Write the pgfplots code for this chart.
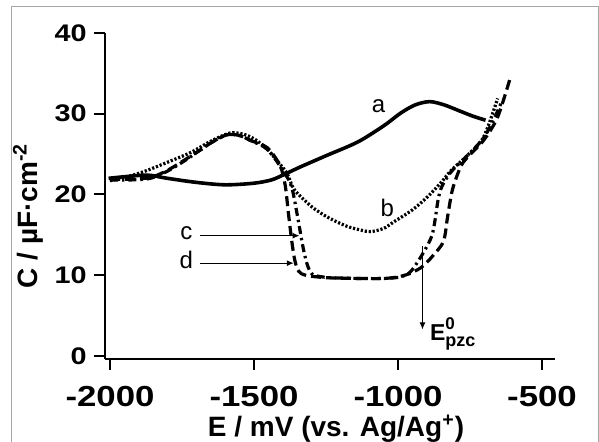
\documentclass[border=0pt]{standalone}
\usepackage{fontspec}
\setmainfont{Liberation Sans}
\newfontfamily\tickfont{Liberation Sans}[FakeStretch=1.2]
\usepackage{pgfplots}
\pgfplotsset{compat=1.18}
\usetikzlibrary{arrows.meta}
\begin{document}
\begin{tikzpicture}
\useasboundingbox (0,0) rectangle (299.5pt,221pt);
% frame
\draw[gray!70, line width=0.5pt] (5.75pt,0pt) -- (5.75pt,217.5pt) -- (299pt,217.5pt) -- (299pt,0pt);
\begin{axis}[
  at={(52.5pt,41.5pt)}, anchor=south west,
  scale only axis, width=225pt, height=163pt,
  xmin=-2017.4, xmax=-454.9, ymin=-0.37, ymax=40,
  axis x line=bottom, axis y line=left,
  axis line style={line width=1pt, -},
  xtick={-2000,-1500,-1000,-500}, xticklabels={-2000,-1500,-1000,-500},
  ytick={0,10,20,30,40}, yticklabels={0,10,20,30,40},
  tick align=outside, major tick length=5.5pt,
  tick style={line width=1pt, black},
  /pgf/number format/assume math mode=true,
  xticklabel style={font=\tickfont\bfseries\fontsize{14.5}{14.5}\selectfont, inner sep=0pt, yshift=-8pt},
  yticklabel style={font=\tickfont\bfseries\fontsize{12}{12}\selectfont, inner sep=0pt, xshift=-3.5pt},
  clip=false,
]
% a: solid
\addplot[black, line width=1.8pt, smooth] coordinates {
(-2005,22.0) (-1950,22.2) (-1870,22.4) (-1800,22.0) (-1700,21.5) (-1600,21.2)
(-1500,21.4) (-1440,21.8) (-1400,22.4) (-1340,23.4) (-1250,24.8) (-1140,26.5)
(-1050,28.5) (-990,30.1) (-940,31.1) (-890,31.5) (-840,31.1) (-790,30.4)
(-740,29.7) (-696,29.2)};
% b: dotted
\addplot[black, line width=1.6pt, smooth, dash pattern=on 1.1pt off 0.9pt] coordinates {
(-2000,21.7) (-1930,22.3) (-1870,23.0) (-1800,24.0) (-1720,25.2) (-1650,26.6)
(-1585,27.6) (-1540,27.5) (-1500,26.9) (-1460,25.8) (-1420,24.2) (-1385,22.6)
(-1360,20.6) (-1300,18.5) (-1245,17.2) (-1180,16.1) (-1130,15.6) (-1095,15.4)
(-1050,15.8) (-1015,16.6) (-950,18.1) (-898,19.7) (-850,21.5) (-815,23.0)
(-760,24.8) (-703,27.1) (-654,31.9)};
% c: dash-dot
\addplot[black, line width=1.6pt, smooth, dash pattern=on 4pt off 2pt on 1.2pt off 2pt] coordinates {
(-2000,21.8) (-1930,21.8) (-1860,22.0) (-1800,22.9) (-1740,24.2) (-1687,25.5)
(-1640,26.6) (-1593,27.4) (-1550,27.3) (-1513,26.7) (-1454,25.6) (-1400,23.0)
(-1370,21.0) (-1350,17.5) (-1330,13.5) (-1315,11.3) (-1300,10.2) (-1280,9.9)
(-1235,9.7) (-1130,9.6) (-1050,9.6) (-990,9.8) (-955,10.5) (-912,12.8)
(-880,15.2) (-859,19.7) (-842,21.4) (-811,23.0) (-760,24.8) (-703,27.0)
(-665,29.5) (-640,31.5)};
% d: dashed
\addplot[black, line width=1.6pt, smooth, dash pattern=on 5pt off 2.5pt] coordinates {
(-2000,21.9) (-1930,21.9) (-1860,22.1) (-1800,23.0) (-1740,24.3) (-1687,25.5)
(-1640,26.6) (-1593,27.4) (-1550,27.3) (-1513,26.7) (-1454,25.8) (-1410,23.6)
(-1392,21.2) (-1380,17.5) (-1368,14.0) (-1358,11.8) (-1345,10.5) (-1320,10.0)
(-1250,9.7) (-1130,9.6) (-1050,9.6) (-1000,9.8) (-960,10.2) (-922,10.9)
(-900,11.6) (-877,12.5) (-842,14.2) (-828,17.2) (-811,20.6) (-783,23.4)
(-759,24.6) (-703,26.7) (-654,29.6) (-609,34.6)};
% annotations
\node[font=\fontsize{12}{12}\selectfont] at (axis cs:-1068,31.0) {a};
\node[font=\fontsize{12}{12}\selectfont] at (axis cs:-1037,18.3) {b};
\node[font=\fontsize{12}{12}\selectfont] at (axis cs:-1735,15.2) {c};
\node[font=\fontsize{12}{12}\selectfont] at (axis cs:-1735,11.9) {d};
\draw[line width=0.5pt, -{Latex[length=3.5pt,width=3pt]}] (axis cs:-1687,14.9) -- (axis cs:-1342,14.9);
\draw[line width=0.5pt, -{Latex[length=3.5pt,width=3pt]}] (axis cs:-1687,11.5) -- (axis cs:-1362,11.5);
\draw[line width=0.5pt, -{Latex[length=3.5pt,width=3pt]}] (axis cs:-915,13.6) -- (axis cs:-915,3.3);
\node[anchor=base west, inner sep=0pt, font=\bfseries\fontsize{11.5}{11.5}\selectfont] at (axis cs:-890,1.9)
  {E\rlap{\raisebox{0.95ex}{\fontsize{8.5}{8.5}\selectfont 0}}\raisebox{-0.45ex}{\fontsize{9}{9}\selectfont pzc}};
\end{axis}
% axis labels
\node[inner sep=0pt, font=\bfseries\fontsize{14}{14}\selectfont] at (168pt,6.5pt) {E / mV (vs. Ag/Ag\textsuperscript{+})};
\node[rotate=90, font=\bfseries\fontsize{14}{14}\selectfont] at (14pt,113pt) {C / µF·cm\textsuperscript{-2}};
\end{tikzpicture}
\end{document}
